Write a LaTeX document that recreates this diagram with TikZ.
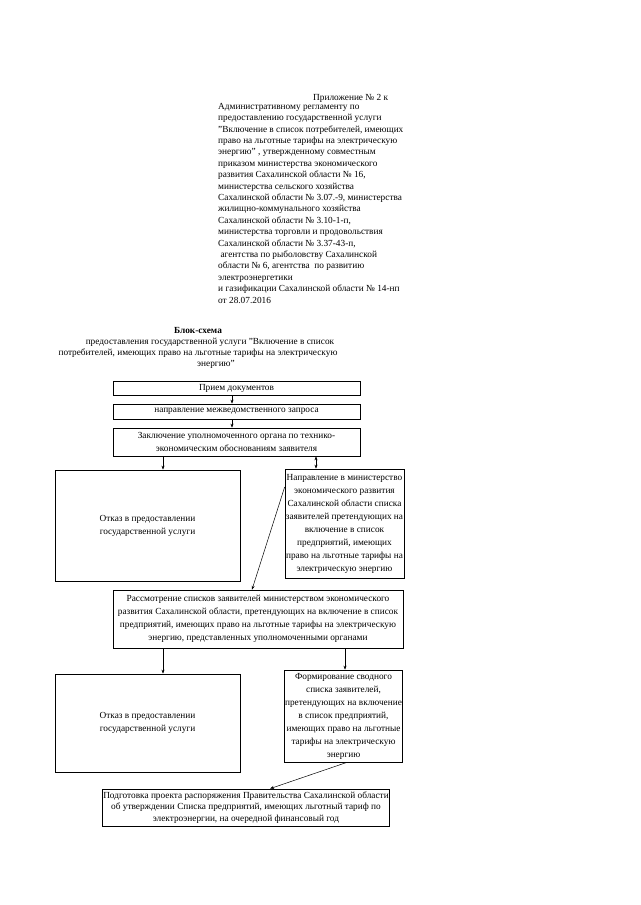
\documentclass[tikz,border=0pt]{standalone}
\usepackage{fontspec}
\setmainfont{Liberation Serif}
\usetikzlibrary{arrows.meta}
\begin{document}
\begin{tikzpicture}[x=1pt,y=-1pt,
  box/.style={draw, line width=0.7pt, inner sep=0.5pt, align=center,
    font=\fontsize{9.3}{13}\selectfont},
  arr/.style={line width=0.5pt, -{Stealth[length=4pt,width=3pt]}},
  darr/.style={line width=0.5pt, {Stealth[length=4pt,width=3pt]}-{Stealth[length=4pt,width=3pt]}},
  hdr/.style={font=\fontsize{9.3}{11.4}\selectfont, inner sep=0pt, align=left},
  ttl/.style={font=\fontsize{9.3}{11}\selectfont, inner sep=0pt}]
\fill[white] (0,0) rectangle (640,905);
\useasboundingbox (0,0) rectangle (640,905);

% header
\node[hdr, anchor=base west] (h0) at (313,100) {Приложение № 2 к};
\node[hdr, anchor=north west] (h1) at (218,103) {Административному регламенту по\\
предоставлению государственной услуги\\
"Включение в список потребителей, имеющих\\
право на льготные тарифы на электрическую\\
энергию" , утвержденному совместным\\
приказом министерства экономического\\
развития Сахалинской области № 16,\\
министерства сельского хозяйства\\
Сахалинской области № 3.07.-9, министерства\\
жилищно-коммунального хозяйства\\
Сахалинской области № 3.10-1-п,\\
министерства торговли и продовольствия\\
Сахалинской области № 3.37-43-п,\\
\ агентства по рыболовству Сахалинской\\
области № 6, агентства \ по развитию\\
электроэнергетики\\
и газификации Сахалинской области № 14-нп\\
от 28.07.2016};

% title
\node[ttl, font=\fontsize{9.3}{11}\selectfont\bfseries] (t0) at (198,330) {Блок-схема};
\node[ttl] (t1) at (210,342) {предоставления государственной услуги "Включение в список};
\node[ttl] (t2) at (198,353) {потребителей, имеющих право на льготные тарифы на электрическую};
\node[ttl] (t3) at (216,364) {энергию"};

% boxes
\node[box, minimum width=247pt, minimum height=14pt] (b1) at (236.5,388) {Прием документов};
\node[box, minimum width=247pt, minimum height=15pt] (b2) at (236.5,411.5) {направление межведомственного запроса};
\node[box, minimum width=247pt, minimum height=28pt] (b3) at (236.5,442) {Заключение уполномоченного органа по технико-\\экономическим обоснованиям заявителя};
\node[box, minimum width=185pt, minimum height=111pt] (b4) at (147.5,525.5) {Отказ в предоставлении\\государственной услуги};
\node[box, minimum width=119pt, minimum height=109pt] (b5) at (344.5,523.5) {Направление в министерство\\
экономического развития\\
Сахалинской области списка\\
заявителей претендующих на\\
включение в список\\
предприятий, имеющих\\
право на льготные тарифы на\\
электрическую энергию};
\node[box, minimum width=290pt, minimum height=58pt] (b6) at (258,619) {Рассмотрение списков заявителей министерством экономического\\
развития Сахалинской области, претендующих на включение в список\\
предприятий, имеющих право на льготные тарифы на электрическую\\
энергию, представленных уполномоченными органами};
\node[box, minimum width=185pt, minimum height=98pt] (b7) at (147.5,723) {Отказ в предоставлении\\государственной услуги};
\node[box, minimum width=117pt, minimum height=92pt] (b8) at (343.5,716) {Формирование сводного\\
списка заявителей,\\
претендующих на включение\\
в список предприятий,\\
имеющих право на льготные\\
тарифы на электрическую\\
энергию};
\node[box, minimum width=266pt, minimum height=37pt, font=\fontsize{9.3}{11.5}\selectfont] (b9) at (246,807.5) {Подготовка проекта распоряжения Правительства Сахалинской области\\
об утверждении Списка предприятий, имеющих льготный тариф по\\
электроэнергии, на очередной финансовый год};

% connectors
\draw[arr] ([xshift=-4.5pt]b1.south) -- ([xshift=-4.5pt]b2.north);
\draw[arr] ([xshift=-4.5pt]b2.south) -- ([xshift=-4.5pt]b3.north);
\draw[arr] ([xshift=15.5pt]b4.north |- b3.south) -- ([xshift=15.5pt]b4.north);
\draw[darr] ([xshift=-28.5pt]b5.north |- b3.south) -- ([xshift=-28.5pt]b5.north);
\draw[arr] ([yshift=36.5pt]b5.west) -- ([xshift=-6pt]b6.north);
\draw[arr] ([xshift=15.5pt]b7.north |- b6.south) -- ([xshift=15.5pt]b7.north);
\draw[arr] ([xshift=1.5pt]b8.north |- b6.south) -- ([xshift=1.5pt]b8.north);
\draw[arr] ([xshift=3.5pt]b8.south) -- ([xshift=24pt]b9.north);
\end{tikzpicture}
\end{document}
